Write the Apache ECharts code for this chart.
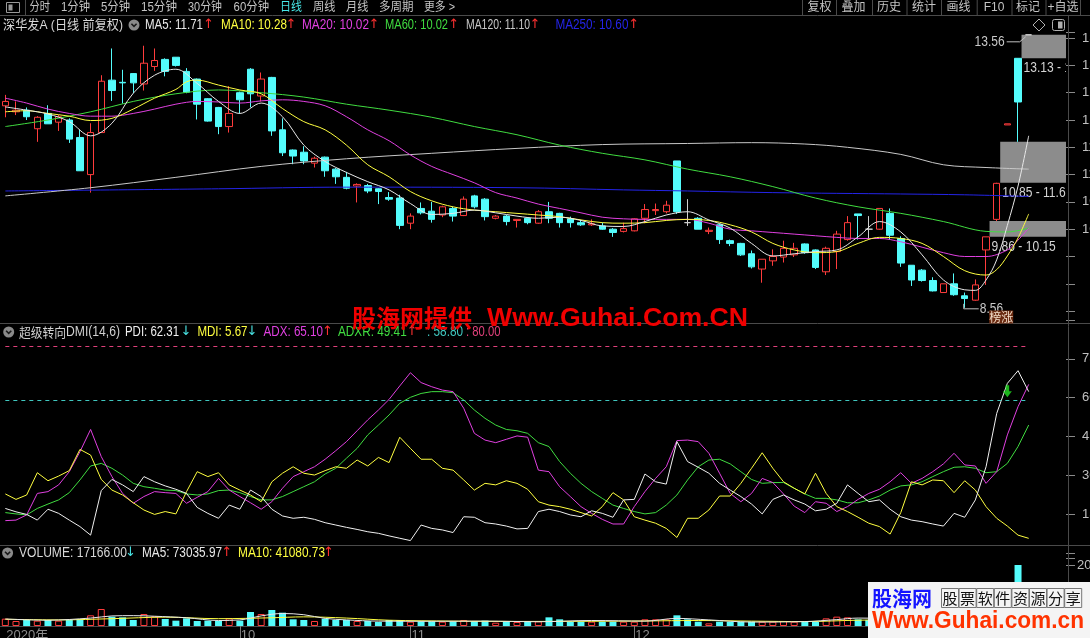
<!DOCTYPE html>
<html><head><meta charset="utf-8">
<script src="https://cdn.jsdelivr.net/npm/echarts@6/dist/echarts.min.js"></script>
<style>html,body{margin:0;padding:0;background:#000;overflow:hidden}#c{width:1090px;height:638px}</style>
</head><body><div id="c"></div>
<script>
// ---------------- DATA ----------------
const dates = ['2020-09-01','2020-09-02','2020-09-03','2020-09-04','2020-09-07','2020-09-08','2020-09-09','2020-09-10','2020-09-11','2020-09-14','2020-09-15','2020-09-16','2020-09-17','2020-09-18','2020-09-21','2020-09-22','2020-09-23','2020-09-24','2020-09-25','2020-09-28','2020-09-29','2020-09-30',
'2020-10-09','2020-10-12','2020-10-13','2020-10-14','2020-10-15','2020-10-16','2020-10-19','2020-10-20','2020-10-21','2020-10-22','2020-10-23','2020-10-26','2020-10-27','2020-10-28','2020-10-29','2020-10-30',
'2020-11-02','2020-11-03','2020-11-04','2020-11-05','2020-11-06','2020-11-09','2020-11-10','2020-11-11','2020-11-12','2020-11-13','2020-11-16','2020-11-17','2020-11-18','2020-11-19','2020-11-20','2020-11-23','2020-11-24','2020-11-25','2020-11-26','2020-11-27','2020-11-30',
'2020-12-01','2020-12-02','2020-12-03','2020-12-04','2020-12-07','2020-12-08','2020-12-09','2020-12-10','2020-12-11','2020-12-14','2020-12-15','2020-12-16','2020-12-17','2020-12-18','2020-12-21','2020-12-22','2020-12-23','2020-12-24','2020-12-25','2020-12-28','2020-12-29','2020-12-30','2020-12-31',
'2021-01-04','2021-01-05','2021-01-06','2021-01-07','2021-01-08','2021-01-11','2021-01-12','2021-01-13','2021-01-14','2021-01-15','2021-01-18','2021-01-19','2021-01-20','2021-01-21','2021-01-22'];

const open = [12.26,12.15,12.18,11.84,12.12,11.96,12.00,11.68,11.00,11.77,12.73,12.69,12.85,12.66,12.98,13.11,13.15,12.89,12.75,12.39,12.23,11.88,12.50,12.93,12.44,12.78,11.82,11.45,11.41,11.21,11.32,11.10,10.95,10.79,10.80,10.74,10.58,10.57,10.11,10.38,10.33,10.26,10.38,10.25,10.61,10.55,10.20,10.24,10.16,10.20,10.11,10.32,10.29,10.19,10.12,10.08,10.06,10.00,9.96,9.97,10.20,10.34,10.32,11.25,10.12,10.20,9.96,10.08,9.79,9.74,9.55,9.27,9.42,9.49,9.53,9.73,9.62,9.22,9.59,9.81,10.28,10.00,10.00,10.29,9.83,9.34,9.25,9.06,8.84,9.00,8.78,8.70,9.62,10.18,11.91,13.13,13.56];
const close = [12.34,12.18,12.06,12.05,11.93,12.06,11.65,11.07,11.77,12.71,12.54,12.68,12.68,13.04,13.09,12.89,13.00,12.51,12.29,11.98,11.88,12.12,12.37,12.48,12.75,11.80,11.40,11.34,11.25,11.30,11.07,10.96,10.75,10.82,10.70,10.69,10.55,10.07,10.24,10.30,10.18,10.41,10.24,10.55,10.41,10.23,10.24,10.14,10.18,10.12,10.32,10.20,10.12,10.12,10.08,10.10,10.00,9.94,10.01,10.19,10.36,10.36,10.44,10.32,10.12,10.00,9.98,9.81,9.74,9.53,9.31,9.45,9.50,9.65,9.65,9.57,9.30,9.65,9.91,10.12,10.25,10.00,10.38,9.89,9.38,9.07,9.06,8.87,9.00,8.80,8.73,8.98,9.86,10.84,11.93,12.33,13.56];
const low = [12.05,12.09,12.00,11.60,11.93,11.80,11.58,11.07,10.67,11.77,12.35,12.30,12.49,12.54,12.90,12.80,12.98,12.49,12.01,11.97,11.74,11.77,12.12,12.23,12.34,11.71,11.34,11.19,11.19,11.13,10.96,10.83,10.73,10.49,10.66,10.46,10.52,10.00,10.00,10.27,10.12,10.22,10.14,10.24,10.38,10.16,10.18,10.07,10.03,10.09,10.10,10.11,10.03,10.03,10.06,10.06,9.99,9.86,9.94,9.96,10.11,10.26,10.29,10.28,10.06,10.00,9.91,9.73,9.69,9.51,9.28,9.02,9.33,9.39,9.49,9.55,9.27,9.16,9.27,9.79,9.81,9.81,9.99,9.81,9.31,8.96,9.04,8.86,8.84,8.78,8.56,8.69,8.98,10.15,11.91,11.60,13.56];
const high = [12.46,12.34,12.23,12.07,12.27,12.09,12.03,11.82,11.94,12.82,13.31,12.92,12.86,13.36,13.31,13.13,13.15,12.95,12.76,12.40,12.24,12.62,12.52,12.95,12.87,12.79,12.03,11.46,11.52,11.33,11.33,11.12,11.05,10.84,10.83,10.75,10.68,10.63,10.29,10.49,10.50,10.43,10.41,10.60,10.63,10.57,10.26,10.26,10.18,10.22,10.35,10.50,10.30,10.23,10.17,10.18,10.12,10.02,10.12,10.20,10.46,10.47,10.52,11.25,10.55,10.22,10.03,10.10,9.81,9.75,9.61,9.45,9.63,9.79,9.75,9.74,9.63,9.68,9.97,10.24,10.28,10.24,10.38,10.38,9.87,9.34,9.27,9.12,9.00,9.19,8.84,9.08,9.86,10.85,11.93,13.13,13.56];

const volume = [24000,16400,19700,17500,19700,17500,19700,23000,35000,55700,30600,28400,19700,39300,31700,23000,17500,25100,16400,17500,16400,25100,17500,45900,39300,52500,43700,21900,19700,16400,24000,19700,19700,16400,16400,13100,19700,19700,14200,15300,15300,14200,15300,19700,16400,17500,10900,15300,13100,15300,15300,28400,21900,14200,14200,14200,14200,14200,14200,14200,21900,21900,21900,35000,21900,14200,8700,14200,14200,14200,14200,14200,14200,16400,14200,14200,14200,25100,30600,28400,21900,20000,25000,22000,20000,18000,12000,9000,9500,9000,9000,9100,55000,85000,8000,200000,17166];

// moving averages: [candle index, value]
const ma5 = [[0,12.24],[2,12.18],[4,12.11],[6,11.97],[8,11.71],[10,11.94],[12,12.49],[14,12.82],[16,12.93],[18,12.67],[20,12.34],[22,12.12],[24,12.31],[26,12.06],[28,11.54],[30,11.24],[32,11.04],[34,10.87],[36,10.72],[38,10.47],[40,10.27],[42,10.29],[44,10.35],[46,10.30],[48,10.24],[50,10.20],[52,10.22],[54,10.16],[56,10.06],[58,10.05],[60,10.14],[62,10.26],[64,10.32],[66,10.17],[68,10.02],[70,9.74],[72,9.51],[74,9.55],[76,9.59],[78,9.62],[80,9.86],[82,10.14],[84,9.95],[86,9.53],[88,9.07],[90,8.89],[91,8.88],[92,9.07],[93,9.44],[94,10.07],[95,10.79],[96,11.71]];
const ma10 = [[0,12.15],[2,12.17],[4,12.12],[6,12.07],[8,11.99],[10,12.03],[12,12.20],[14,12.40],[16,12.56],[17,12.70],[18,12.73],[20,12.64],[22,12.55],[24,12.48],[26,12.21],[28,11.97],[30,11.82],[32,11.54],[34,11.18],[36,10.96],[38,10.69],[40,10.52],[42,10.41],[44,10.35],[46,10.32],[48,10.29],[50,10.26],[52,10.23],[54,10.17],[56,10.12],[58,10.11],[60,10.12],[62,10.16],[64,10.18],[66,10.16],[68,10.08],[70,9.95],[72,9.74],[74,9.62],[76,9.57],[78,9.59],[80,9.74],[82,9.85],[84,9.83],[86,9.74],[88,9.50],[90,9.24],[92,9.16],[93,9.26],[94,9.51],[95,9.84],[96,10.28]];
const ma20 = [[0,12.40],[2,12.31],[4,12.20],[6,12.12],[8,12.07],[10,12.07],[12,12.12],[14,12.20],[16,12.29],[18,12.34],[20,12.33],[22,12.31],[24,12.35],[26,12.37],[28,12.34],[30,12.26],[32,12.06],[34,11.82],[36,11.62],[38,11.36],[40,11.15],[42,11.00],[44,10.85],[46,10.67],[48,10.57],[50,10.46],[52,10.38],[54,10.30],[56,10.22],[58,10.19],[60,10.18],[62,10.18],[64,10.18],[66,10.11],[68,10.00],[70,9.97],[72,9.94],[74,9.91],[76,9.88],[78,9.85],[80,9.83],[82,9.83],[84,9.77],[86,9.67],[88,9.57],[90,9.50],[92,9.50],[94,9.62],[95,9.80],[96,10.02]];
const ma60 = [[0,11.88],[4,12.00],[8,12.15],[12,12.34],[16,12.48],[20,12.55],[24,12.50],[28,12.42],[32,12.29],[36,12.18],[40,12.05],[44,11.88],[48,11.73],[52,11.54],[56,11.39],[60,11.27],[64,11.10],[68,10.96],[72,10.78],[76,10.57],[80,10.41],[84,10.29],[88,10.14],[92,9.96],[94,9.95],[96,10.02]];
const ma120 = [[0,10.61],[8,10.76],[16,10.95],[24,11.15],[32,11.29],[40,11.39],[48,11.48],[56,11.55],[64,11.57],[70,11.585],[75,11.56],[79,11.50],[84,11.37],[88,11.18],[92,11.13],[96,11.10]];
const ma250 = [[0,10.70],[20,10.74],[32,10.77],[48,10.76],[58,10.72],[64,10.70],[72,10.67],[84,10.645],[90,10.63],[96,10.60]];

// unfilled gaps: [candle index before gap, low, high]
const gapStart = [92, 93, 95];
const gapLow = [9.86, 10.85, 13.13];
const gapHigh = [10.15, 11.60, 13.56];

// DMI (14,6)
const pdi = [17.2,15.9,14.9,12.7,16.9,15.3,12.7,10.2,6.9,24.1,28.4,26.3,23.7,29.5,27.5,25.9,24.6,23.0,17.6,15.3,13.4,18.5,16.9,24.3,21.8,16.9,14.3,13.4,13.8,13.0,11.7,10.8,9.9,9.1,8.2,7.6,6.6,5.7,4.8,10.8,9.5,8.9,7.9,14.0,13.8,11.7,11.2,10.4,9.3,9.5,16.0,16.9,16.0,14.7,14.0,16.3,15.3,13.8,20.5,20.7,30.5,27.5,26.6,43.0,35.3,33.1,30.8,26.9,24.3,21.8,18.9,15.1,20.7,22.4,20.5,18.9,16.3,16.9,19.2,26.3,23.0,19.8,20.5,16.9,14.0,12.7,12.1,11.2,10.4,15.3,13.8,20.5,33.3,53.9,65.5,70.4,62.31];
const mdi = [22.8,20.7,22.4,31.0,27.9,29.7,31.8,40.0,37.8,28.4,24.3,22.4,19.4,16.6,14.9,16.0,15.1,23.7,31.4,29.5,31.0,26.3,24.3,22.4,19.8,27.5,30.8,33.3,30.8,30.1,31.8,33.3,32.7,35.9,33.6,36.9,34.9,44.7,40.4,36.2,36.2,32.7,32.0,28.2,24.3,26.9,26.3,27.9,26.9,24.6,19.8,18.5,17.9,16.9,15.6,14.3,17.9,23.3,20.5,14.0,12.7,11.5,9.5,6.0,13.4,13.4,16.6,22.0,22.0,26.9,32.7,38.7,32.7,27.5,25.0,22.8,30.8,23.0,17.9,16.0,13.8,11.5,10.2,7.3,15.6,27.5,26.3,28.2,27.9,23.3,27.9,24.3,17.9,13.4,10.4,6.9,5.67];
const adx = [12.5,12.7,14.7,23.0,23.7,26.3,31.4,39.1,47.7,37.2,29.5,23.0,19.2,21.8,23.7,23.3,23.0,19.2,21.5,23.7,28.8,24.3,21.8,19.4,16.9,19.8,25.0,29.5,31.4,33.3,36.2,39.5,43.0,47.2,51.4,55.2,59.3,64.5,69.6,65.8,64.2,62.9,62.3,55.9,46.2,43.6,42.6,43.9,45.2,44.7,32.0,31.4,25.6,21.8,17.9,15.3,13.0,11.2,11.2,17.9,23.7,28.8,33.3,43.4,43.6,43.0,38.5,30.8,23.0,19.8,23.0,28.8,27.2,22.8,18.1,15.6,19.8,19.2,16.0,17.9,20.7,23.0,24.6,27.5,31.0,26.9,28.8,31.4,34.4,38.5,34.0,33.6,26.9,31.4,45.6,56.5,65.10];
const adxr = [15.6,15.1,14.7,17.2,18.9,20.5,23.3,28.2,33.6,34.6,32.7,30.1,26.9,25.6,25.0,24.3,24.1,22.8,22.4,22.8,24.1,24.3,23.3,21.8,20.5,20.5,21.8,23.7,25.6,27.5,30.5,32.7,36.6,40.4,45.6,49.4,53.3,57.8,60.1,61.6,62.3,62.3,61.9,59.1,55.2,52.0,49.4,47.7,47.2,46.2,42.6,41.1,35.3,30.8,26.9,23.7,21.1,18.5,17.2,16.0,15.1,15.6,18.5,22.4,28.2,33.3,35.9,36.2,34.4,31.4,28.4,26.9,27.2,27.2,25.0,22.8,21.1,21.1,20.5,19.4,19.4,20.5,22.0,24.3,25.9,26.3,27.5,29.5,31.4,33.1,33.3,32.7,31.0,31.4,34.6,41.1,49.41];
const dmiLevels = [58.8, 80];
const signalIdx = [94];
const signalVal = [62.5];

const volMa5 = [[0,23000],[4,19000],[8,26000],[10,33000],[12,34000],[14,32000],[17,27000],[20,18000],[22,20000],[24,33000],[26,41000],[28,37000],[30,25000],[32,20000],[35,16000],[40,15500],[45,16000],[50,14000],[55,18000],[60,16000],[63,25000],[66,20000],[70,13000],[75,14500],[78,21000],[80,26000],[84,22000],[88,13000],[91,9200],[93,32000],[95,71000],[96,73036]];
const volMa10 = [[0,22000],[5,20000],[10,24000],[15,29000],[20,24000],[25,27000],[28,30000],[32,26000],[36,19000],[42,16000],[48,15000],[55,15500],[60,16500],[65,18000],[70,16000],[75,14500],[80,19000],[85,20000],[90,13000],[93,22000],[96,41081]];

// text shown in the headers
const priceTitle = '深华发A (日线 前复权)';
const priceHeader = [['MA5: 11.71','↑'],['MA10: 10.28','↑'],['MA20: 10.02','↑'],['MA60: 10.02','↑'],['MA120: 11.10','↑'],['MA250: 10.60','↑']];
const dmiTitle = ['超级转向','DMI(14,6)'];
const dmiHeader = [['PDI: 62.31','↓'],['MDI: 5.67','↓'],['ADX: 65.10','↑'],['ADXR: 49.41','↑'],[': 58.80',''],[': 80.00','']];
const volHeader = [['VOLUME: 17166.00','↓'],['MA5: 73035.97','↑'],['MA10: 41080.73','↑']];
const toolbarLeft = ['分时','1分钟','5分钟','15分钟','30分钟','60分钟','日线','周线','月线','多周期','更多 >'];
const toolbarRight = ['复权','叠加','历史','统计','画线','F10','标记','+自选'];

// ---------------- STYLE / LAYOUT ----------------
const LAT = '"Liberation Sans","Noto Sans CJK SC",sans-serif';
const CJK = '"Noto Sans CJK SC","Liberation Sans",sans-serif';
const ARW = '"DejaVu Sans",sans-serif';
const UP = '#ff3c3c', DOWN = '#54fcfc';
const C_MA = ['#e8e8e8','#ffff40','#e040e0','#40dc40','#c8c8c8','#2424e8'];
const C_DMI = ['#f0f0f0','#ffff40','#e040e0','#40dc40','#40c8c0','#e0407a'];
const RED_ARROW = '#ff3030', CYAN_ARROW = '#48e0e0';
const SEP = '#4a4a4a';

const cats = dates.concat(['','','']);
function isMonthStart(i){ if(i===0) return true; if(i>=dates.length) return false; return dates[i].slice(5,7)!==dates[i-1].slice(5,7); }
function monthLabel(i){ if(i===0) return dates[0].slice(0,4)+'年'; return String(parseInt(dates[i].slice(5,7),10)); }

const GRID_W = 1066;
const chart = echarts.init(document.getElementById('c'), null, {width:1090, height:638});

const candleData = dates.map((d,i)=>[open[i], close[i], low[i], high[i]]);
const volData = volume.map((v,i)=>({value:v, itemStyle: close[i] > open[i] ? {color:'#000', borderColor:UP, borderWidth:1} : {color:DOWN, borderColor:DOWN, borderWidth:0}}));

function maSeries(data, color, xi, yi){ return {type:'line', data, xAxisIndex:xi, yAxisIndex:yi, smooth:0.35, symbol:'none', z:4, lineStyle:{color, width:1}, silent:true}; }
function dmiSeries(data, color, extra){ return Object.assign({type:'line', data, xAxisIndex:1, yAxisIndex:1, symbol:'none', z:4, lineStyle:{color, width:1}, silent:true}, extra||{}); }
const gridBase = {left:0, width:GRID_W, containLabel:false, outerBoundsMode:'none'};

const option = {
  backgroundColor:'#000',
  animation:false,
  grid:[
    Object.assign({top:32.64, height:278.46}, gridBase),
    Object.assign({top:319.9, height:233.1}, gridBase),
    Object.assign({top:558, height:68}, gridBase)
  ],
  xAxis:[
    {gridIndex:0, type:'category', data:cats, show:false},
    {gridIndex:1, type:'category', data:cats, show:false},
    {gridIndex:2, type:'category', data:cats,
      axisLine:{show:true, lineStyle:{color:SEP}},
      axisTick:{show:true, alignWithLabel:true, length:12, interval:(i)=>i>0 && isMonthStart(i), lineStyle:{color:'#7a7a7a'}},
      axisLabel:{show:true, interval:(i)=>isMonthStart(i), formatter:(v,i)=>monthLabel(i), color:'#8c8c8c', fontSize:13, fontFamily:LAT, align:'left', margin:3, padding:[0,0,0,1]},
      splitLine:{show:false}}
  ],
  yAxis:[
    {gridIndex:0, type:'value', position:'right', min:8.5, max:13.6, interval:0.5, splitLine:{show:false}, axisLine:{show:false},
      axisTick:{show:true, length:9, lineStyle:{color:'#8a8a8a'}},
      axisLabel:{margin:16, color:'#c0c0c0', fontSize:13, fontFamily:LAT, formatter:(v)=>(v>=10 && Math.abs(v*2-Math.round(v*2))<1e-6)?v.toFixed(2):''}},
    {gridIndex:1, type:'value', position:'right', min:0, max:90, interval:15, splitLine:{show:false}, axisLine:{show:false},
      axisTick:{show:true, length:9, lineStyle:{color:'#8a8a8a'}},
      axisLabel:{margin:16, color:'#c0c0c0', fontSize:13, fontFamily:LAT, formatter:(v)=>(v>0 && v<90)?v.toFixed(2):''}},
    {gridIndex:2, type:'value', position:'right', min:0, max:223000, interval:100000, splitLine:{show:false}, axisLine:{show:false},
      axisTick:{show:true, length:9, lineStyle:{color:'#8a8a8a'}},
      axisLabel:{margin:11, color:'#c0c0c0', fontSize:13, fontFamily:LAT, formatter:(v)=>v===200000?String(v):''}}
  ],
  series:[
    {type:'custom', xAxisIndex:0, yAxisIndex:0, z:1, clip:true, silent:true,
      data: gapStart.map((s,k)=>[s, gapLow[k], gapHigh[k]]),
      renderItem:(params, api)=>{
        const i = api.value(0), lo = api.value(1), hi = api.value(2);
        const pHi = api.coord([i, hi]), pLo = api.coord([i, lo]);
        const x0 = pHi[0] + 3.5;
        const right = params.coordSys.x + params.coordSys.width;
        return {type:'group', children:[
          {type:'rect', shape:{x:x0, y:pHi[1], width:right-x0, height:pLo[1]-pHi[1]}, style:{fill:'#8c8c8c'}},
          {type:'text', x:x0+2, y:pLo[1]+10, scaleX:0.86, style:{text:lo.toFixed(2)+' - '+hi.toFixed(2), fill:'#d4d4d4', fontSize:14, fontFamily:LAT, verticalAlign:'middle'}}
        ]};
      }},
    {type:'candlestick', xAxisIndex:0, yAxisIndex:0, data:candleData, barWidth:7, z:2, silent:true,
      itemStyle:{color:'#000', color0:DOWN, borderColor:UP, borderColor0:DOWN, borderColorDoji:'#d0d0d0', borderWidth:1}},
    maSeries(ma250, C_MA[5], 0, 0),
    maSeries(ma120, C_MA[4], 0, 0),
    maSeries(ma60, C_MA[3], 0, 0),
    maSeries(ma20, C_MA[2], 0, 0),
    maSeries(ma10, C_MA[1], 0, 0),
    maSeries(ma5, C_MA[0], 0, 0),
    dmiSeries(adxr, C_DMI[3], {markLine:{silent:true, symbol:'none', label:{show:false},
      data:[
        [{coord:[0, dmiLevels[0]], lineStyle:{color:C_DMI[4], type:[4,4], width:1}},{coord:[dates.length-1, dmiLevels[0]]}],
        [{coord:[0, dmiLevels[1]], lineStyle:{color:C_DMI[5], type:[4,4], width:1}},{coord:[dates.length-1, dmiLevels[1]]}]
      ]}}),
    dmiSeries(adx, C_DMI[2]),
    dmiSeries(mdi, C_DMI[1]),
    dmiSeries(pdi, C_DMI[0]),
    {type:'scatter', xAxisIndex:1, yAxisIndex:1, z:6, silent:true, data: signalIdx.map((s,k)=>[s, signalVal[k]]),
      symbol:'path://M3,0 L7,0 L7,6 L10,6 L5,12 L0,6 L3,6 Z', symbolSize:[9,12], itemStyle:{color:'#22e022'}},
    {type:'bar', xAxisIndex:2, yAxisIndex:2, data:volData, barWidth:7, z:2, silent:true},
    maSeries(volMa10, C_MA[1], 2, 2),
    maSeries(volMa5, C_MA[0], 2, 2)
  ]
};
chart.setOption(option);

// ---------------- DECORATIONS ----------------
const mctx = document.createElement('canvas').getContext('2d');
function measure(text, size, family, weight){ mctx.font = (weight||'normal')+' '+size+'px '+family; return mctx.measureText(text).width; }
const G = [];
function ln(x1,y1,x2,y2,color,w,z){ G.push({type:'line', silent:true, z:z||50, shape:{x1,y1,x2,y2}, style:{stroke:color, lineWidth:w||1}}); }
function tx(x,y,text,color,size,family,extra){ G.push(Object.assign({type:'text', silent:true, z:60, x, y, style:Object.assign({text, fill:color, fontSize:size, fontFamily:family||LAT, verticalAlign:'middle', align:'left'}, (extra&&extra.style)||{})}, (extra&&extra.el)||{})); }
// text fitted into a horizontal span [x0, x1]
function txFit(x0,x1,y,text,color,size,family,weight,z){
  const w = measure(text, size, family||LAT, weight);
  tx(x0, y, text, color, size, family, {style:{fontWeight:weight||'normal'}, el:{scaleX:(x1-x0)/w, z:z||60}});
}
function arrow(cx, y, ch, color){ tx(cx, y, ch, color, 13, ARW, {style:{align:'center'}}); }
function chevron(cx,cy){
  G.push({type:'circle', silent:true, z:60, shape:{cx, cy, r:5.5}, style:{fill:'#8a8a8a'}});
  G.push({type:'polyline', silent:true, z:61, shape:{points:[[cx-2.6,cy-1.2],[cx,cy+1.4],[cx+2.6,cy-1.2]]}, style:{stroke:'#1a1a1a', lineWidth:1.6, fill:null}});
}

// toolbar
const tlSpan = [[29.5,50],[61,90],[101,130],[141,177],[188,222],[233.6,269],[280,302],[313,335.4],[346,368.4],[379,413.6],[424,455]];
toolbarLeft.forEach((t,k)=>txFit(tlSpan[k][0], tlSpan[k][1], 7.5, t, t==='日线' ? '#48e8e8' : '#c4c4c4', 12, LAT));
G.push({type:'rect', silent:true, z:60, shape:{x:6.5, y:2.5, width:13, height:10}, style:{fill:null, stroke:'#9a9a9a', lineWidth:1}});
G.push({type:'rect', silent:true, z:60, shape:{x:8.5, y:4.5, width:4, height:6}, style:{fill:'#9a9a9a'}});
ln(25.5,0,25.5,15,SEP);
const trSep = [802,836,872,906.5,941,976.7,1011.5,1045.5,1080];
trSep.forEach(x=>ln(x+0.5,0,x+0.5,15,SEP));
const trX = [819.6,853.6,889,924,958.6,994,1028,1063];
toolbarRight.forEach((t,k)=>tx(trX[k], 7.5, t, '#c4c4c4', 12, LAT, {style:{align:'center'}}));

// panel separators
ln(0,15.5,1090,15.5,SEP);
ln(0,323.5,1090,323.5,SEP);
ln(0,545.5,1090,545.5,SEP);
ln(1068.5,15.5,1068.5,638,SEP);

// price header
txFit(3, 123, 25, priceTitle, '#d8d8d8', 13, LAT);
chevron(134, 25);
const phSpan = [[145,203],[221,287],[302,369],[385,448],[466,530],[555.4,628.4]], phA = [208.5,291,374,453.6,535,633.6];
priceHeader.forEach((h,k)=>{ txFit(phSpan[k][0], phSpan[k][1], 25, h[0], C_MA[k], 14, LAT); arrow(phA[k], 25, h[1], RED_ARROW); });
// right-top icons
G.push({type:'polygon', silent:true, z:60, shape:{points:[[1039,19],[1045,25],[1039,31],[1033,25]]}, style:{fill:null, stroke:'#b0b0b0', lineWidth:1}});
G.push({type:'rect', silent:true, z:60, shape:{x:1052.5, y:19.5, width:12, height:11, r:2}, style:{fill:null, stroke:'#b0b0b0', lineWidth:1}});
G.push({type:'rect', silent:true, z:60, shape:{x:1058, y:21.5, width:4.5, height:7}, style:{fill:'#b0b0b0'}});

// DMI header
chevron(8.7, 332);
txFit(19, 66, 332, dmiTitle[0], '#d0d0d0', 13, CJK);
txFit(66, 120, 332, dmiTitle[1], '#d0d0d0', 14, LAT);
const dhSpan = [[125,179],[197.4,247.5],[263.5,323],[338,406.7],[427,463],[466,500.5]], dhA = [186,252,327.4,412];
const dhArrowC = [CYAN_ARROW, CYAN_ARROW, RED_ARROW, RED_ARROW];
dmiHeader.forEach((h,k)=>{ txFit(dhSpan[k][0], dhSpan[k][1], 332, h[0], C_DMI[k], 14, LAT); if(h[1]) arrow(dhA[k], 332, h[1], dhArrowC[k]); });

// volume header
chevron(7.6, 553);
const vhSpan = [[19,127],[142,222],[238,325]], vhA = [130.5,226.6,328.5], vhC = ['#d8d8d8','#e8e8e8','#ffff40'], vhAC = [CYAN_ARROW, RED_ARROW, RED_ARROW];
volHeader.forEach((h,k)=>{ txFit(vhSpan[k][0], vhSpan[k][1], 553, h[0], vhC[k], 14, LAT); arrow(vhA[k], 553, h[1], vhAC[k]); });

// price annotations anchored to data
let lowIdx = 0; low.forEach((v,i)=>{ if(v<low[lowIdx]) lowIdx=i; });
let highIdx = 0; high.forEach((v,i)=>{ if(v>=high[highIdx]) highIdx=i; });
const pL = chart.convertToPixel({gridIndex:0}, [lowIdx, low[lowIdx]]);
G.push({type:'polyline', silent:true, z:55, shape:{points:[[pL[0]-1,pL[1]-4],[pL[0]-1,pL[1]+1],[pL[0]+14,pL[1]+1]]}, style:{stroke:'#c0c0c0', lineWidth:1, fill:null}});
tx(pL[0]+15, pL[1]+1, low[lowIdx].toFixed(2), '#c8c8c8', 14, LAT, {el:{scaleX:0.86}});
const pH = chart.convertToPixel({gridIndex:0}, [highIdx, high[highIdx]]);
G.push({type:'polyline', silent:true, z:55, shape:{points:[[pH[0]-22,pH[1]+7],[pH[0]-9,pH[1]+7],[pH[0]-3,pH[1]+2]]}, style:{stroke:'#c0c0c0', lineWidth:1, fill:null}});
tx(pH[0]-24, pH[1]+7, high[highIdx].toFixed(2), '#c8c8c8', 14, LAT, {style:{align:'right'}, el:{scaleX:0.86}});
const pT = chart.convertToPixel({gridIndex:0}, [93, low[93]]);
G.push({type:'rect', silent:true, z:60, shape:{x:pT[0]-7.5, y:310.5, width:24, height:13}, style:{fill:'#6a2a10'}});
tx(pT[0]+4.5, 317.3, '榜涨', '#f2dcc8', 12, CJK, {style:{align:'center'}});

// red overlay caption
txFit(352, 472, 318, '股海网提供', '#f00000', 24, CJK, 'bold', 120);
txFit(487, 748, 319, 'Www.Guhai.Com.CN', '#f00000', 26, '"Liberation Sans",sans-serif', 'bold', 120);

// bottom-right stamp
G.push({type:'rect', silent:true, z:200, shape:{x:868, y:582, width:222, height:56}, style:{fill:'#f4f4f4'}});
txFit(872, 932, 598, '股海网', '#1414ff', 21, CJK, 'bold', 201);
const stamp = '股票软件资源分享';
for(let k=0;k<stamp.length;k++){
  const x = 941 + k*17.6;
  G.push({type:'rect', silent:true, z:201, shape:{x:x+0.5, y:588.5, width:17, height:19}, style:{fill:null, stroke:'#777', lineWidth:1}});
  tx(x+9, 598, stamp[k], '#111', 15, CJK, {style:{align:'center'}, el:{z:202}});
}
txFit(872, 1084, 622, 'Www.Guhai.com.cn', '#ff3300', 23, '"Liberation Sans",sans-serif', 'bold', 201);

chart.setOption({graphic: G});
</script>
</body></html>
